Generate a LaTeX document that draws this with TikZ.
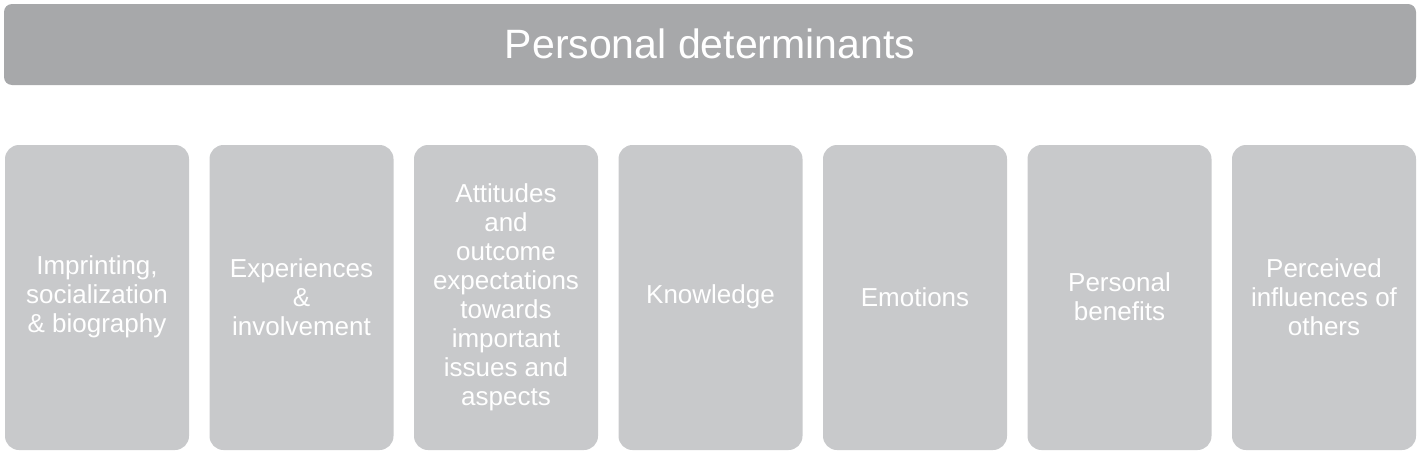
\documentclass[tikz,border=0pt]{standalone}
\usepackage{fontspec}
\setmainfont{Liberation Sans}
\definecolor{barc}{HTML}{A7A8AA}
\definecolor{boxc}{HTML}{C8C9CB}
\begin{document}
\begin{tikzpicture}[x=0.5pt,y=-0.5pt,
  bar/.style={fill=barc,draw=none,rounded corners=4pt},
  card/.style={fill=boxc,draw=none,rounded corners=7pt},
  lbl/.style={text=white,align=center,font=\fontsize{13}{14.5}\selectfont}]
\useasboundingbox (0,0) rectangle (1420,455);
\fill[bar] (4,4) rectangle (1416,85);
\node[text=white,font=\fontsize{20.5}{24}\selectfont] (title) at (710,44) {Personal determinants};
\foreach \i/\t in {0/{Imprinting,\\socialization\\\& biography},1/{Experiences\\\&\\involvement},2/{Attitudes\\and\\outcome\\expectations\\towards\\important\\issues and\\aspects},3/{Knowledge},4/{Emotions},5/{Personal\\benefits},6/{Perceived\\influences of\\others}}{
  \fill[card] ({5+204.5*\i},145) rectangle ({189+204.5*\i},450);
  \node[lbl] (b\i) at ({97+204.5*\i},297) {\t};
}
\end{tikzpicture}
\end{document}
